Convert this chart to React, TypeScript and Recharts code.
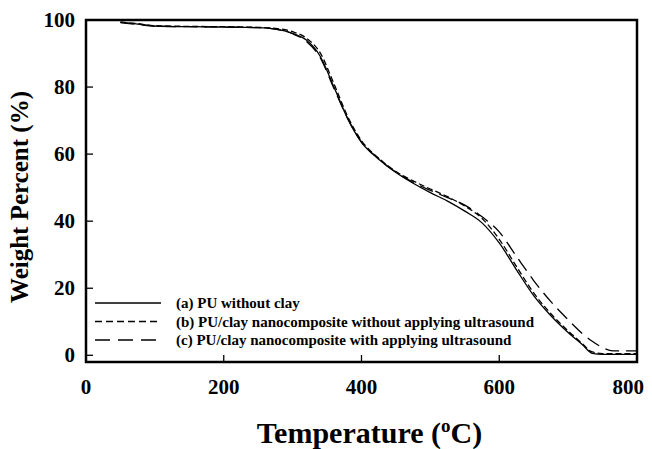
import * as Recharts from "recharts";

const { LineChart, Line, XAxis, YAxis, Legend } = Recharts;
const usePlotAreaHook: () => any = (Recharts as any).usePlotArea ?? (() => null);

// TGA curves, weight % vs temperature
const temps = [50, 75, 100, 150, 200, 250, 275, 300, 320, 340, 360, 380, 400, 425, 450, 475, 500, 525, 550, 575, 600, 625, 650, 675, 700, 720, 735, 750, 765, 800];
const puNoClay = [99.3, 98.8, 98.2, 98.0, 97.9, 97.7, 97.3, 96.0, 94.0, 89.2, 80.0, 70.5, 63.5, 58.5, 54.5, 51.3, 48.5, 46.0, 43.0, 39.5, 33.5, 25.5, 17.8, 11.8, 6.8, 3.3, 0.6, 0.3, 0.3, 0.3];
const nanoNoUltra = [99.4, 98.9, 98.3, 98.1, 98.0, 97.8, 97.5, 96.5, 94.6, 90.2, 81.0, 71.2, 64.0, 58.8, 54.8, 52.0, 49.6, 47.3, 44.5, 40.8, 34.6, 26.5, 18.6, 12.4, 7.3, 3.6, 1.0, 0.5, 0.5, 0.5];
const nanoUltra = [99.2, 98.7, 98.2, 98.0, 97.9, 97.7, 97.3, 95.9, 93.6, 88.8, 79.6, 70.6, 63.6, 58.6, 54.6, 51.6, 49.2, 47.0, 44.8, 41.3, 36.8, 29.5, 22.3, 16.0, 10.6, 6.6, 4.2, 2.3, 1.3, 1.3];

const xTicks = [0, 200, 400, 600, 800];
const yTicks = [0, 20, 40, 60, 80, 100];
const xMin = 0, xMax = 800, yMin = -2, yMax = 100;

const legendItems = [
  { label: "(a) PU without clay", dash: undefined },
  { label: "(b) PU/clay nanocomposite without applying ultrasound", dash: "7 4" },
  { label: "(c) PU/clay nanocomposite with applying ultrasound", dash: "15 8" },
];

const data = temps.map((t, i) => ({
  t,
  a: puNoClay[i],
  b: nanoNoUltra[i],
  c: nanoUltra[i],
}));

const W = 652, H = 449;
const MARGIN = { top: 20, right: 15, bottom: 27, left: 26 };
const Y_AXIS_W = 60, X_AXIS_H = 60;
const FONT = "'Liberation Serif', 'Times New Roman', serif";

// frame, inward ticks and the key, drawn over the plot
function Overlay() {
  const area = usePlotAreaHook() ?? {
    x: MARGIN.left + Y_AXIS_W,
    y: MARGIN.top,
    width: W - MARGIN.left - MARGIN.right - Y_AXIS_W,
    height: H - MARGIN.top - MARGIN.bottom - X_AXIS_H,
  };
  const { x, y, width, height } = area;
  const sx = (v: number) => x + ((v - xMin) / (xMax - xMin)) * width;
  const sy = (v: number) => y + ((yMax - v) / (yMax - yMin)) * height;
  const bottom = y + height;

  return (
    <svg width={W} height={H} style={{ display: "block" }}>
      {/* double thin outline for a heavier box */}
      <rect x={x - 0.6} y={y - 0.6} width={width + 1.2} height={height + 1.2} fill="none" stroke="#000" strokeWidth={1.3} />
      <rect x={x + 0.6} y={y + 0.6} width={width - 1.2} height={height - 1.2} fill="none" stroke="#000" strokeWidth={1.3} />
      {xTicks.map((v) => (
        <line key={`x${v}`} x1={sx(v)} x2={sx(v)} y1={bottom} y2={bottom - 7} stroke="#000" strokeWidth={1.3} />
      ))}
      {yTicks.map((v) => (
        <line key={`y${v}`} x1={x} x2={x + 7} y1={sy(v)} y2={sy(v)} stroke="#000" strokeWidth={1.3} />
      ))}
      {legendItems.map((it, i) => {
        const ly = 303 + i * 18.5;
        return (
          <g key={it.label}>
            <line x1={95} x2={161} y1={ly} y2={ly} stroke="#000" strokeWidth={1.3} strokeDasharray={it.dash} />
            <text x={176} y={ly} dominantBaseline="central" fontFamily={FONT} fontWeight="bold" fontSize={15} fill="#000">
              {it.label}
            </text>
          </g>
        );
      })}
    </svg>
  );
}

function XTick(props: any) {
  const { x, y, payload } = props;
  const last = payload.value === xMax;
  return (
    <text x={last ? x + 7 : x} y={y + 25} textAnchor={last ? "end" : "middle"} dominantBaseline="central"
      fontFamily={FONT} fontWeight="bold" fontSize={21} fill="#000">
      {payload.value}
    </text>
  );
}

function YTick(props: any) {
  const { x, y, payload } = props;
  return (
    <text x={x - 11} y={y} textAnchor="end" dominantBaseline="central"
      fontFamily={FONT} fontWeight="bold" fontSize={21} fill="#000">
      {payload.value}
    </text>
  );
}

function YTitle(props: any) {
  const { viewBox } = props;
  const cx = 19;
  const cy = viewBox.y + viewBox.height / 2 + 6;
  return (
    <text x={cx} y={cy} transform={`rotate(-90 ${cx} ${cy})`} textAnchor="middle" dominantBaseline="central"
      fontFamily={FONT} fontWeight="bold" fontSize={25} fill="#000">
      Weight Percent (%)
    </text>
  );
}

function XTitle(props: any) {
  const { viewBox } = props;
  const cx = viewBox.x + viewBox.width / 2 + 8;
  const y = viewBox.y + 81;
  return (
    <text x={cx} y={y} textAnchor="middle" fontFamily={FONT} fontWeight="bold" fontSize={30} fill="#000">
      <tspan>Temperature (</tspan>
      <tspan dy={-11} fontSize={19}>o</tspan>
      <tspan dy={11}>C)</tspan>
    </text>
  );
}

export default function App() {
  return (
    <div style={{ position: "absolute", left: 0, top: 0 }}>
      <LineChart width={W} height={H} data={data} margin={MARGIN}>
        <XAxis
          type="number"
          dataKey="t"
          domain={[xMin, xMax]}
          ticks={xTicks}
          height={X_AXIS_H}
          tickSize={0}
          tickMargin={0}
          tick={<XTick />}
          axisLine={{ stroke: "#000", strokeWidth: 1.3 }}
          tickLine={false}
          label={{ content: XTitle }}
        />
        <YAxis
          type="number"
          domain={[yMin, yMax]}
          ticks={yTicks}
          width={Y_AXIS_W}
          tickSize={0}
          tickMargin={0}
          tick={<YTick />}
          allowDataOverflow
          axisLine={{ stroke: "#000", strokeWidth: 1.3 }}
          tickLine={false}
          label={{ content: YTitle }}
        />
        <Legend
          layout="horizontal"
          verticalAlign="middle"
          align="center"
          content={() => <Overlay />}
          wrapperStyle={{ position: "absolute", left: 0, top: 0, width: W, height: H, pointerEvents: "none" }}
        />
        <Line type="monotone" dataKey="a" stroke="#000" strokeWidth={1.3} dot={false} isAnimationActive={false} />
        <Line type="monotone" dataKey="b" stroke="#000" strokeWidth={1.3} strokeDasharray="6 3" dot={false} isAnimationActive={false} />
        <Line type="monotone" dataKey="c" stroke="#000" strokeWidth={1.3} strokeDasharray="14 7" dot={false} isAnimationActive={false} />
      </LineChart>
    </div>
  );
}
